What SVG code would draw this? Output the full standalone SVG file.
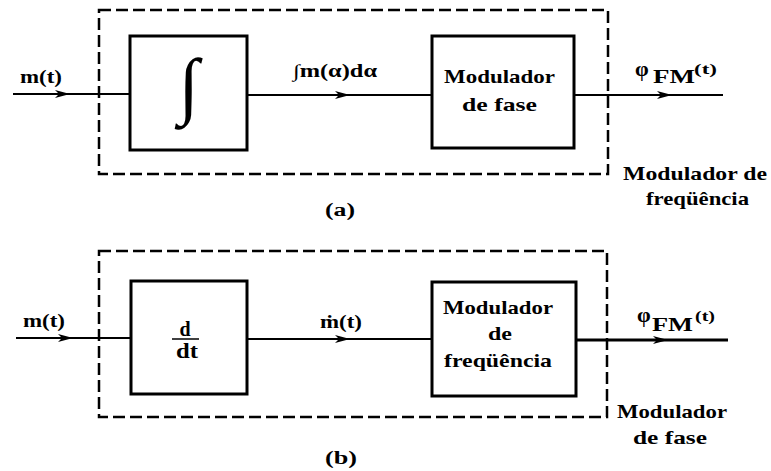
<svg xmlns="http://www.w3.org/2000/svg" xmlns:xlink="http://www.w3.org/1999/xlink" width="771" height="471" viewBox="0 0 771 471" font-family="Liberation Serif, DejaVu Serif, serif" font-weight="bold">
  <style>
    text { font-family: 'Liberation Serif', 'DejaVu Serif', serif; font-weight: bold; fill: #000; }
    .box { fill: none; stroke: #000; stroke-width: 3; }
    .dash { fill: none; stroke: #000; stroke-width: 2.5; stroke-dasharray: 12 5; }
    .wire { fill: none; stroke: #000; stroke-width: 2; }
    .wire3 { fill: none; stroke: #000; stroke-width: 3; }
  </style>
  <defs>
    <path id="ah" d="M0,0 L-15,-4 L-11,0 L-15,4 Z" fill="#000"/>
  </defs>
  <rect width="771" height="471" fill="#fff"/>

  <!-- (a) frequency modulator built from integrator + phase modulator -->
  <g id="groupA">
    <rect class="dash" x="99" y="10" width="509" height="164"/>
    <text x="623" y="180" font-size="19" textLength="144" lengthAdjust="spacingAndGlyphs">Modulador de</text>
    <text x="646" y="205" font-size="19" textLength="103" lengthAdjust="spacingAndGlyphs">freqüência</text>
    <text x="325" y="216" font-size="18" textLength="30" lengthAdjust="spacingAndGlyphs">(a)</text>
  </g>
  <g id="integrator">
    <rect class="box" x="130" y="36" width="117" height="114"/>
    <text x="188" y="110" font-size="74" text-anchor="middle" font-style="italic">∫</text>
  </g>
  <g id="phaseMod">
    <rect class="box" x="432" y="36" width="142" height="112"/>
    <text x="444" y="83" font-size="19" textLength="111" lengthAdjust="spacingAndGlyphs">Modulador</text>
    <text x="462" y="111" font-size="19" textLength="75" lengthAdjust="spacingAndGlyphs">de  fase</text>
  </g>

  <!-- (b) phase modulator built from differentiator + frequency modulator -->
  <g id="groupB">
    <rect class="dash" x="99" y="251" width="508" height="166"/>
    <text x="617" y="418" font-size="19" textLength="110" lengthAdjust="spacingAndGlyphs">Modulador</text>
    <text x="633" y="444" font-size="19" textLength="74" lengthAdjust="spacingAndGlyphs">de  fase</text>
    <text x="325" y="464" font-size="18" textLength="32" lengthAdjust="spacingAndGlyphs">(b)</text>
  </g>
  <g id="differentiator">
    <rect class="box" x="131" y="281" width="116" height="113"/>
    <text x="185" y="336" font-size="20" text-anchor="middle">d</text>
    <line x1="172" y1="339" x2="199" y2="339" stroke="#000" stroke-width="1.5"/>
    <text x="176" y="358" font-size="20" textLength="22" lengthAdjust="spacingAndGlyphs">dt</text>
  </g>
  <g id="freqMod">
    <rect class="box" x="432" y="282" width="144" height="114"/>
    <text x="443" y="314" font-size="19" textLength="110" lengthAdjust="spacingAndGlyphs">Modulador</text>
    <text x="488" y="340" font-size="19" textLength="24" lengthAdjust="spacingAndGlyphs">de</text>
    <text x="444" y="367" font-size="19" textLength="108" lengthAdjust="spacingAndGlyphs">freqüência</text>
  </g>

  <g id="connectors">
    <!-- (a) -->
    <line class="wire" x1="13" y1="94" x2="130" y2="94"/>
    <use xlink:href="#ah" x="70" y="94"/>
    <line class="wire" x1="247" y1="95" x2="432" y2="95"/>
    <use xlink:href="#ah" x="350" y="95"/>
    <line class="wire" x1="574" y1="95" x2="723" y2="95"/>
    <use xlink:href="#ah" x="672" y="95"/>
    <!-- (b) -->
    <line class="wire" x1="16" y1="338" x2="131" y2="338"/>
    <use xlink:href="#ah" x="73" y="338"/>
    <line class="wire" x1="247" y1="339" x2="432" y2="339"/>
    <use xlink:href="#ah" x="350" y="339"/>
    <line class="wire3" x1="576" y1="340" x2="728" y2="340"/>
    <use xlink:href="#ah" x="668" y="340"/>
  </g>

  <g id="signalLabels">
    <text x="20" y="83" font-size="18" textLength="42" lengthAdjust="spacingAndGlyphs">m(t)</text>
    <text x="293" y="77" font-size="18" textLength="84" lengthAdjust="spacingAndGlyphs">∫m(α)dα</text>
    <text x="635" y="76" font-size="22">φ</text>
    <text x="653" y="83" font-size="19" textLength="42" lengthAdjust="spacingAndGlyphs">FM</text>
    <text x="694" y="74" font-size="15" textLength="23" lengthAdjust="spacingAndGlyphs">(t)</text>

    <text x="23" y="327" font-size="18" textLength="42" lengthAdjust="spacingAndGlyphs">m(t)</text>
    <text x="320" y="328" font-size="18" textLength="42" lengthAdjust="spacingAndGlyphs">ṁ(t)</text>
    <text x="637" y="322" font-size="22">φ</text>
    <text x="652" y="331" font-size="19" textLength="41" lengthAdjust="spacingAndGlyphs">FM</text>
    <text x="695" y="321" font-size="15" textLength="20" lengthAdjust="spacingAndGlyphs">(t)</text>
  </g>
</svg>
